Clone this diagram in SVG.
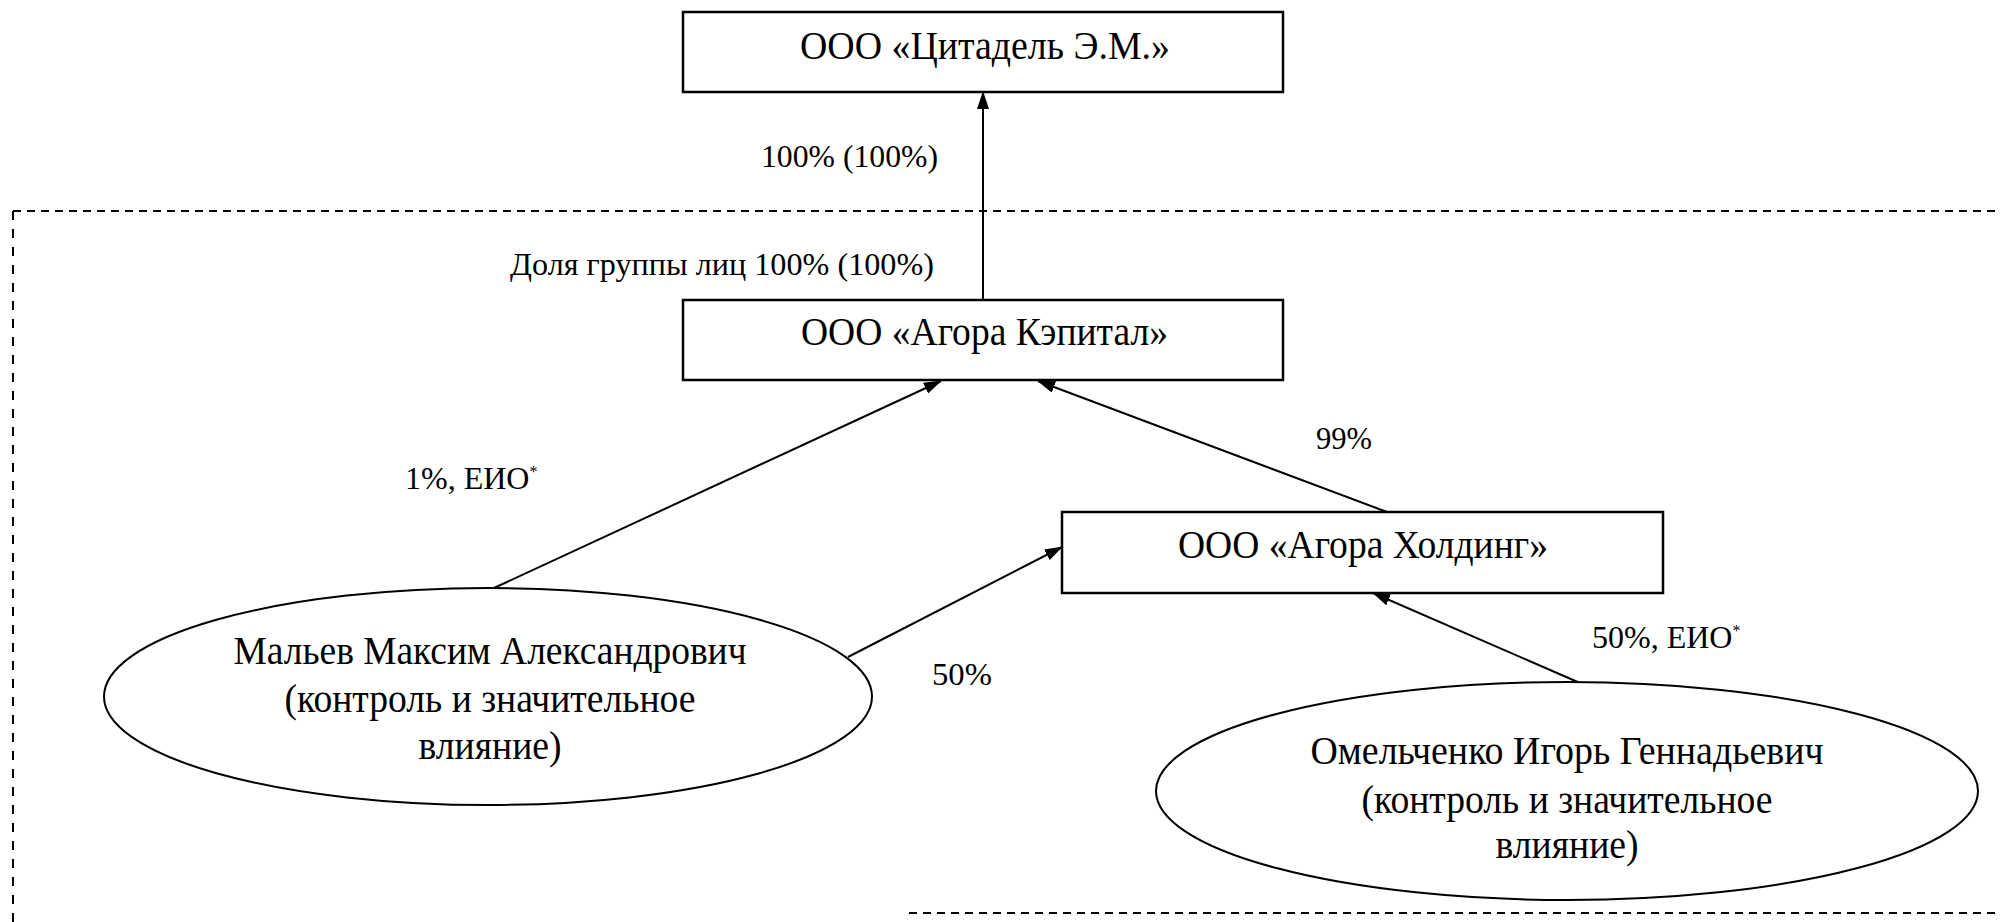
<svg xmlns="http://www.w3.org/2000/svg" width="2001" height="922" viewBox="0 0 2001 922">
<style>
.box{fill:#fff;stroke:#000;stroke-width:2.5}
.ell{fill:#fff;stroke:#000;stroke-width:2}
.t{font-family:"Liberation Serif","Times New Roman",serif;font-size:40px;fill:#000;text-anchor:middle}
.l{font-family:"Liberation Serif","Times New Roman",serif;font-size:32px;fill:#000}
.s{font-size:16px}
.c{stroke:#000;stroke-width:2;fill:none;marker-end:url(#ah)}
.d{stroke:#000;stroke-width:2;fill:none}
</style>
<defs>
<marker id="ah" markerUnits="userSpaceOnUse" markerWidth="18" markerHeight="12" refX="17" refY="6" orient="auto">
<path d="M0,0 L18,6 L0,12 z" fill="#000"/>
</marker>
</defs>
<rect width="2001" height="922" fill="#fff"/>
<g id="group-border">
<line class="d" x1="13" y1="211" x2="2001" y2="211" stroke-dasharray="8,6"/>
<line class="d" x1="13" y1="211" x2="13" y2="922" stroke-dasharray="9,9"/>
<line class="d" x1="909" y1="913" x2="2001" y2="913" stroke-dasharray="8,6" stroke="#666"/>
</g>
<g id="connectors">
<line class="c" x1="983" y1="300" x2="983" y2="92"/>
<line class="c" x1="494" y1="588" x2="941" y2="381"/>
<line class="c" x1="1387" y1="512" x2="1038" y2="381"/>
<line class="c" x1="848" y1="657" x2="1062" y2="547"/>
<line class="c" x1="1580" y1="683" x2="1373" y2="593"/>
<text class="l" x="849.5" y="167" text-anchor="middle" textLength="177" lengthAdjust="spacingAndGlyphs">100% (100%)</text>
<text class="l" x="722" y="275" text-anchor="middle" textLength="424" lengthAdjust="spacingAndGlyphs">Доля группы лиц 100% (100%)</text>
<text class="l" x="405" y="489">1%, ЕИО<tspan class="s" dy="-12">*</tspan></text>
<text class="l" x="1316" y="449" textLength="56" lengthAdjust="spacingAndGlyphs">99%</text>
<text class="l" x="932" y="685" textLength="60" lengthAdjust="spacingAndGlyphs">50%</text>
<text class="l" x="1592" y="648">50%, ЕИО<tspan class="s" dy="-12">*</tspan></text>
</g>
<g id="citadel">
<rect class="box" x="683" y="12" width="600" height="80"/>
<text class="t" x="985" y="59" textLength="370" lengthAdjust="spacingAndGlyphs">ООО «Цитадель Э.М.»</text>
</g>
<g id="agora-capital">
<rect class="box" x="683" y="300" width="600" height="80"/>
<text class="t" x="984.5" y="345" textLength="367" lengthAdjust="spacingAndGlyphs">ООО «Агора Кэпитал»</text>
</g>
<g id="agora-holding">
<rect class="box" x="1062" y="512" width="601" height="81"/>
<text class="t" x="1363" y="558" textLength="370" lengthAdjust="spacingAndGlyphs">ООО «Агора Холдинг»</text>
</g>
<g id="malyev">
<ellipse class="ell" cx="488" cy="696.5" rx="384" ry="108.5"/>
<text class="t" x="490" y="664" textLength="513" lengthAdjust="spacingAndGlyphs">Мальев Максим Александрович</text>
<text class="t" x="490" y="712" textLength="411" lengthAdjust="spacingAndGlyphs">(контроль и значительное</text>
<text class="t" x="490" y="759" textLength="143" lengthAdjust="spacingAndGlyphs">влияние)</text>
</g>
<g id="omelchenko">
<ellipse class="ell" cx="1567" cy="791" rx="411" ry="109"/>
<text class="t" x="1567" y="764" textLength="513" lengthAdjust="spacingAndGlyphs">Омельченко Игорь Геннадьевич</text>
<text class="t" x="1567" y="813" textLength="411" lengthAdjust="spacingAndGlyphs">(контроль и значительное</text>
<text class="t" x="1567" y="858" textLength="143" lengthAdjust="spacingAndGlyphs">влияние)</text>
</g>
</svg>
